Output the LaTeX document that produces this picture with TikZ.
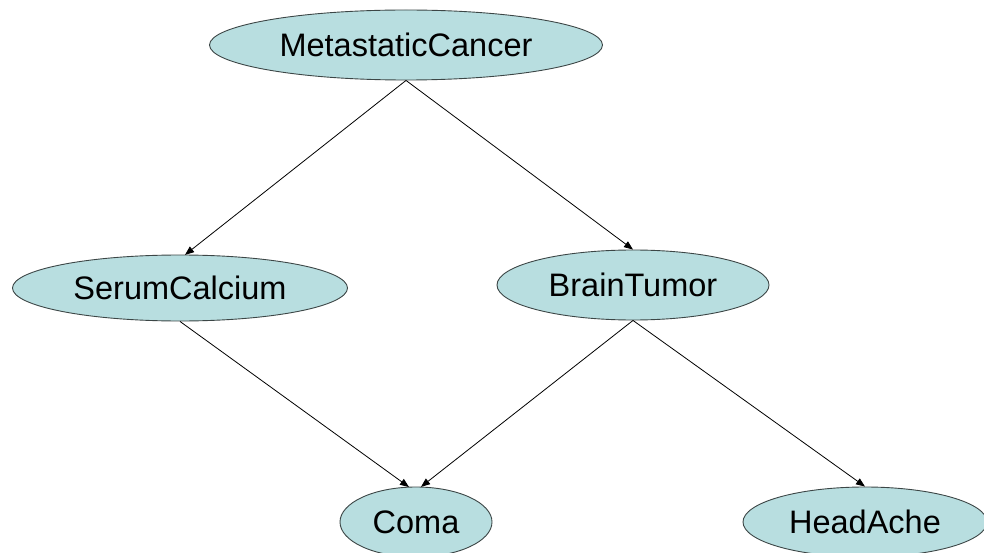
\documentclass[tikz,border=0pt]{standalone}
\usepackage{fontspec}
\setmainfont{Liberation Sans}
\usetikzlibrary{shapes.geometric,arrows.meta}
\definecolor{nodefill}{RGB}{184,222,224}
\definecolor{nodeline}{RGB}{60,70,70}
\tikzset{
  bn/.style={ellipse, draw=nodeline, line width=0.9pt, fill=nodefill, inner sep=0pt,
    font=\fontsize{32.5}{36}\selectfont, text=black},
  edge/.style={draw=black, line width=0.8pt, -{Triangle[length=9pt,width=7pt]}}
}
\begin{document}
\begin{tikzpicture}[x=1pt,y=-1pt]
\useasboundingbox (0,0) rectangle (984,553);
\node[bn, minimum width=393pt, minimum height=70pt] (mc) at (406,45) {MetastaticCancer};
\node[bn, minimum width=335pt, minimum height=66pt] (sc) at (180,288) {SerumCalcium};
\node[bn, minimum width=272pt, minimum height=70pt] (bt) at (633,285) {BrainTumor};
\node[bn, minimum width=152pt, minimum height=70pt] (co) at (416,522) {Coma};
\node[bn, minimum width=244pt, minimum height=70pt] (ha) at (865,522) {HeadAche};
\coordinate (scin) at ([xshift=5pt,yshift=-0.3pt]sc.north);
\coordinate (coinl) at ([xshift=-7pt,yshift=-0.5pt]co.north);
\coordinate (coinr) at ([xshift=5pt,yshift=-0.3pt]co.north);
\draw[edge] (mc.south) -- (scin);
\draw[edge] (mc.south) -- (bt.north);
\draw[edge] (sc.south) -- (coinl);
\draw[edge] (bt.south) -- (coinr);
\draw[edge] (bt.south) -- (ha.north);
\end{tikzpicture}
\end{document}
